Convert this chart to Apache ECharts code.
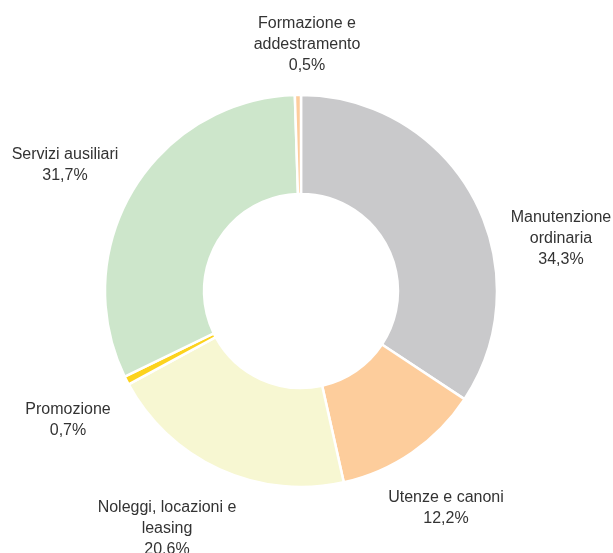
<!DOCTYPE html>
<html>
<head>
<meta charset="utf-8">
<script src="https://cdn.jsdelivr.net/npm/echarts@6/dist/echarts.min.js"></script>
<style>
  html, body { margin: 0; padding: 0; background: #fff; }
  #chart { width: 613px; height: 553px; }
</style>
</head>
<body>
<div id="chart"></div>
<script>
// Cost breakdown by category (share of total, %)
const categories = [
  'Manutenzione\nordinaria',
  'Utenze e canoni',
  'Noleggi, locazioni e\nleasing',
  'Promozione',
  'Servizi ausiliari',
  'Formazione e\naddestramento'
];
const shares = [34.3, 12.2, 20.6, 0.7, 31.7, 0.5];
const shareLabels = ['34,3%', '12,2%', '20.6%', '0,7%', '31,7%', '0,5%'];
const colors = ['#c9c9cb', '#fdcd9c', '#f7f7d2', '#fcd31e', '#cde6cb', '#fdcd9c'];

// Ring geometry and label placement (label centre relative to the ring centre)
const CX = 301, CY = 291;
const labelOffsets = [
  [260, -52], [145, 217], [-134, 238], [-233, 129], [-236, -126], [6, -246]
];

const chart = echarts.init(document.getElementById('chart'), null, { renderer: 'canvas' });

chart.setOption({
  animation: false,
  series: [{
    type: 'pie',
    center: [CX, CY],
    radius: [97, 196],
    startAngle: 90,
    clockwise: true,
    avoidLabelOverlap: false,
    itemStyle: { borderColor: '#ffffff', borderWidth: 2.5 },
    label: {
      show: true,
      position: 'outside',
      fontFamily: 'Liberation Sans, Arial, sans-serif',
      fontSize: 16,
      lineHeight: 21,
      color: '#333333',
      align: 'center',
      formatter: (p) => categories[p.dataIndex] + '\n' + shareLabels[p.dataIndex]
    },
    labelLine: { show: false },
    labelLayout: (p) => ({
      x: CX + labelOffsets[p.dataIndex][0],
      y: CY + labelOffsets[p.dataIndex][1],
      align: 'center',
      verticalAlign: 'middle'
    }),
    data: shares.map((v, i) => ({
      value: v,
      name: categories[i],
      itemStyle: { color: colors[i] }
    }))
  }]
});
</script>
</body>
</html>
